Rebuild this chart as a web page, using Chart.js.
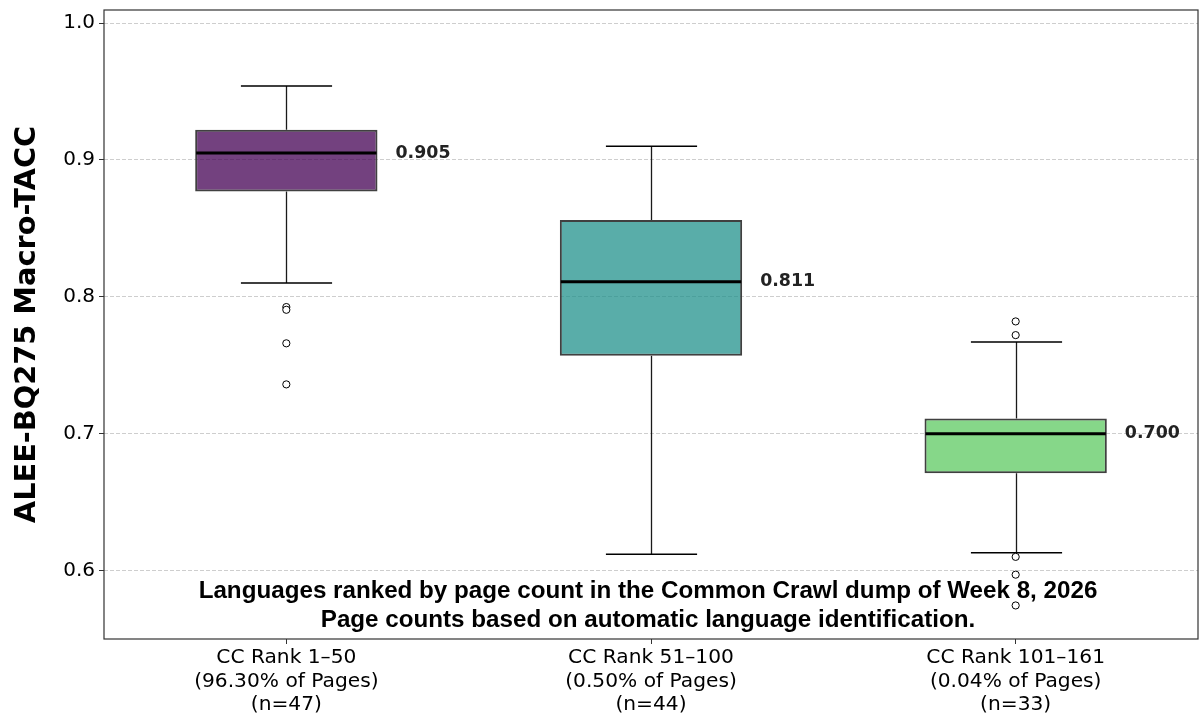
<!DOCTYPE html>
<html>
<head>
<meta charset="utf-8">
<script src="https://cdn.jsdelivr.net/npm/chart.js@4.4.1/dist/chart.umd.min.js"></script>
<style>
  html, body { margin: 0; padding: 0; background: #ffffff; }
  #wrap { width: 1203px; height: 715px; }
</style>
</head>
<body>
<div id="wrap"><canvas id="chart" width="1203" height="715"></canvas></div>
<script>
// Box-plot summary per Common Crawl rank group
const categories = [
  ['CC Rank 1–50', '(96.30% of Pages)', '(n=47)'],
  ['CC Rank 51–100', '(0.50% of Pages)', '(n=44)'],
  ['CC Rank 101–161', '(0.04% of Pages)', '(n=33)']
];
const q1Values = [0.877, 0.757, 0.671];
const q3Values = [0.922, 0.856, 0.711];
const medianValues = [0.905, 0.811, 0.700];
const whiskerLow = [0.810, 0.612, 0.613];
const whiskerHigh = [0.954, 0.910, 0.767];
const outlierValues = [
  [0.7925, 0.7905, 0.766, 0.736],
  [],
  [0.782, 0.772, 0.610, 0.597, 0.5745]
];
const boxColors = ['rgba(68,1,84,0.75)', 'rgba(33,145,140,0.75)', 'rgba(94,201,98,0.75)'];
const yTickValues = [0.6, 0.7, 0.8, 0.9, 1.0];
const yRange = [0.55, 1.0095];
const yTitle = 'ALEE-BQ275 Macro-TACC';
const noteLines = [
  'Languages ranked by page count in the Common Crawl dump of Week 8, 2026',
  'Page counts based on automatic language identification.'
];

const outlierPoints = [];
outlierValues.forEach((vals, i) => vals.forEach(v => outlierPoints.push({ x: i, y: v })));

// Whiskers, caps, medians, median labels, note text and frame
const boxPlotParts = {
  id: 'boxPlotParts',
  beforeDatasetsDraw(chart) {
    const { ctx, scales: { y } } = chart;
    const meta = chart.getDatasetMeta(0);
    ctx.save();
    meta.data.forEach((bar, i) => {
      const cx = Math.round(bar.x) + 0.5;
      const capHalf = bar.width / 4;
      ctx.strokeStyle = '#1a1a1a';
      ctx.lineWidth = 1.3;
      ctx.beginPath();
      ctx.moveTo(cx, y.getPixelForValue(q3Values[i]));
      ctx.lineTo(cx, y.getPixelForValue(whiskerHigh[i]));
      ctx.moveTo(cx, y.getPixelForValue(q1Values[i]));
      ctx.lineTo(cx, y.getPixelForValue(whiskerLow[i]));
      ctx.stroke();
      ctx.strokeStyle = '#000000';
      ctx.lineWidth = 1.5;
      ctx.beginPath();
      [whiskerHigh[i], whiskerLow[i]].forEach(v => {
        const py = y.getPixelForValue(v);
        ctx.moveTo(cx - capHalf, py);
        ctx.lineTo(cx + capHalf, py);
      });
      ctx.stroke();
    });
    ctx.restore();
  },
  afterDatasetsDraw(chart) {
    const { ctx, chartArea, scales: { y } } = chart;
    const meta = chart.getDatasetMeta(0);
    ctx.save();
    meta.data.forEach((bar, i) => {
      const left = bar.x - bar.width / 2;
      const right = bar.x + bar.width / 2;
      const py = y.getPixelForValue(medianValues[i]);
      ctx.strokeStyle = '#000000';
      ctx.lineWidth = 3;
      ctx.beginPath();
      ctx.moveTo(left + 1, py);
      ctx.lineTo(right - 1, py);
      ctx.stroke();
      ctx.fillStyle = '#222222';
      ctx.font = 'bold 17.4px "DejaVu Sans"';
      ctx.textAlign = 'left';
      ctx.textBaseline = 'middle';
      ctx.fillText(medianValues[i].toFixed(3), right + 18, py);
    });
    // note inside the plot area
    const cx = (chartArea.left + chartArea.right) / 2 - 3;
    ctx.fillStyle = '#000000';
    ctx.font = 'bold 24.2px "Liberation Sans"';
    ctx.textAlign = 'center';
    ctx.textBaseline = 'middle';
    ctx.fillText(noteLines[0], cx, 591);
    ctx.fillText(noteLines[1], cx, 620);
    ctx.restore();
  },
  afterDraw(chart) {
    const { ctx, chartArea } = chart;
    ctx.save();
    ctx.strokeStyle = '#333333';
    ctx.lineWidth = 1.2;
    ctx.strokeRect(chartArea.left, chartArea.top, chartArea.right - chartArea.left, chartArea.bottom - chartArea.top);
    ctx.restore();
  }
};

new Chart(document.getElementById('chart'), {
  type: 'bar',
  data: {
    labels: categories,
    datasets: [
      {
        type: 'bar',
        data: q1Values.map((v, i) => [v, q3Values[i]]),
        backgroundColor: boxColors,
        borderColor: '#404040',
        borderWidth: 2,
        borderSkipped: false,
        grouped: false,
        barPercentage: 0.5,
        categoryPercentage: 1.0,
        order: 2
      },
      {
        type: 'scatter',
        data: outlierPoints,
        xAxisID: 'xs',
        pointStyle: 'circle',
        pointRadius: 3.6,
        pointBorderWidth: 1,
        pointBorderColor: '#000000',
        pointBackgroundColor: '#ffffff',
        showLine: false,
        order: 1
      }
    ]
  },
  options: {
    responsive: false,
    animation: false,
    devicePixelRatio: 1,
    layout: { padding: { top: 10, right: 4, left: 0, bottom: 0 } },
    plugins: { legend: { display: false }, tooltip: { enabled: false } },
    scales: {
      x: {
        type: 'category',
        offset: true,
        grid: { display: true, offset: false, drawOnChartArea: false, drawTicks: true, tickLength: 5, tickColor: '#333333', tickWidth: 1 },
        border: { display: false },
        ticks: {
          color: '#000000',
          padding: 2,
          maxRotation: 0,
          autoSkip: false,
          font: { family: 'DejaVu Sans', size: 20.2, lineHeight: 1.17 }
        },
        afterFit(scale) { scale.height = 76; scale.paddingLeft = 0; scale.paddingRight = 0; }
      },
      xs: {
        type: 'linear',
        display: false,
        offset: false,
        min: -0.5,
        max: 2.5
      },
      y: {
        type: 'linear',
        min: yRange[0],
        max: yRange[1],
        afterBuildTicks(scale) { scale.ticks = yTickValues.map(v => ({ value: v })); },
        grid: {
          color: '#c8c8c8',
          lineWidth: 0.9,
          tickColor: '#333333',
          tickLength: 5,
          tickWidth: 1,
          tickBorderDash: []
        },
        border: { display: false, dash: [4, 2] },
        ticks: {
          color: '#000000',
          padding: 4,
          font: { family: 'DejaVu Sans', size: 20 },
          callback: v => Number(v).toFixed(1)
        },
        title: {
          display: true,
          text: yTitle,
          color: '#000000',
          font: { family: 'DejaVu Sans', size: 28.8, weight: 'bold', lineHeight: 1.2 },
          padding: { top: 10, bottom: 0 }
        },
        afterFit(scale) { scale.width = 104; scale.paddingTop = 0; scale.paddingBottom = 0; }
      }
    }
  },
  plugins: [boxPlotParts]
});
</script>
</body>
</html>
